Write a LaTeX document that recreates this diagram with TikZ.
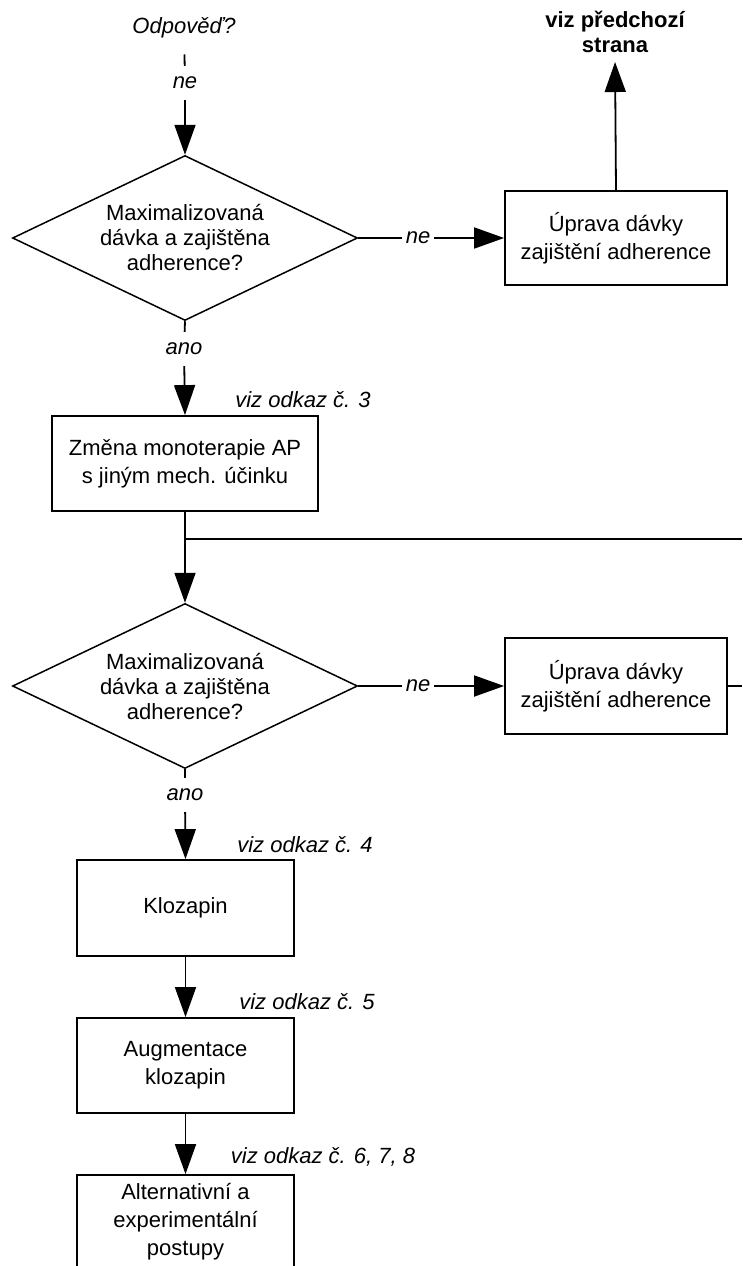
\documentclass[tikz,border=0pt]{standalone}
\usepackage{fontspec}
\setmainfont{Liberation Sans}
\usetikzlibrary{shapes.geometric,arrows.meta}

\tikzset{
	box/.style = {draw, line width=1.8pt, align=center, inner sep=0pt, font=\fontsize{22}{28}\selectfont},
	decision/.style = {diamond, aspect=2.09, draw, line width=1.5pt, align=center, inner sep=0pt, minimum width=345pt, minimum height=165pt, font=\fontsize{22}{25}\selectfont},
	note/.style = {inner sep=3pt, font=\fontsize{22}{26}\selectfont\itshape},
	answer/.style = {inner xsep=4pt, inner ysep=11pt, font=\fontsize{22}{26}\selectfont\itshape},
	link/.style = {line width=1.8pt},
	flow/.style = {line width=1.8pt, -{Triangle[length=30pt,width=21pt]}},
}

\begin{document}
\begin{tikzpicture}[x=1pt, y=-1pt]
		\clip (0,0) rectangle (742,1266);
		% first check
		\node [note] (odp) at (184,28) {Odpověď?};
		\node [answer] (ne0) at (185,83) {ne};
		\node [decision] (d1) at (185,238) {Maximalizovaná\\dávka a zajištěna\\adherence?};
		\node [answer] (ne1) at (418,238) {ne};
		\node [box, minimum width=222pt, minimum height=94pt] (u1) at (616,238) {Úprava dávky\\zajištění adherence};
		\node [align=center, inner sep=3pt, font=\fontsize{22}{25}\selectfont\bfseries] (prev) at (615,32) {viz předchozí\\strana};
		\node [answer] (ano1) at (184,349) {ano};
		\node [note] (ref3) at (303,400) {viz odkaz č. 3};
		\node [box, minimum width=266pt, minimum height=95pt] (z1) at (185,463.5) {Změna monoterapie AP\\s jiným mech. účinku};
		\draw [link, shorten <=13pt] (odp) -- (ne0);
		\draw [flow] (ne0) -- (d1.north);
		\draw [link] (d1.east) -- (ne1);
		\draw [flow] (ne1) -- (u1.west);
		\draw [flow, shorten >=6pt] (u1.north) -- (prev.south);
		\draw [link] (d1.south) -- (ano1);
		\draw [flow] (ano1) -- (z1.north);
		% second check
		\coordinate (split) at (185,539);
		\coordinate (out1) at (742,539);
		\node [decision] (d2) at (185,686) {Maximalizovaná\\dávka a zajištěna\\adherence?};
		\node [answer] (ne2) at (418,686) {ne};
		\node [box, minimum width=222pt, minimum height=96pt] (u2) at (616,686) {Úprava dávky\\zajištění adherence};
		\coordinate (out2) at (742,686);
		\node [answer] (ano2) at (185,795) {ano};
		\draw [link] (z1.south) -- (split) -- (out1);
		\draw [flow] (split) -- (d2.north);
		\draw [link] (d2.east) -- (ne2);
		\draw [flow] (ne2) -- (u2.west);
		\draw [link] (u2.east) -- (out2);
		\draw [link] (d2.south) -- (ano2);
		% clozapine and after
		\node [note] (ref4) at (305,845) {viz odkaz č. 4};
		\node [box, minimum width=217pt, minimum height=96pt] (klo) at (185.5,908) {Klozapin};
		\node [note] (ref5) at (307,1002) {viz odkaz č. 5};
		\node [box, minimum width=217pt, minimum height=95pt] (aug) at (185.5,1065.5) {Augmentace\\klozapin};
		\node [note] (ref678) at (323,1157) {viz odkaz č. 6, 7, 8};
		\node [box, minimum width=217pt, minimum height=94pt] (alt) at (185.5,1222) {Alternativní a\\experimentální\\postupy};
		\draw [flow] (ano2) -- (klo.north);
		\draw [flow] (klo.south) -- (aug.north);
		\draw [flow] (aug.south) -- (alt.north);
	\end{tikzpicture}
\end{document}
